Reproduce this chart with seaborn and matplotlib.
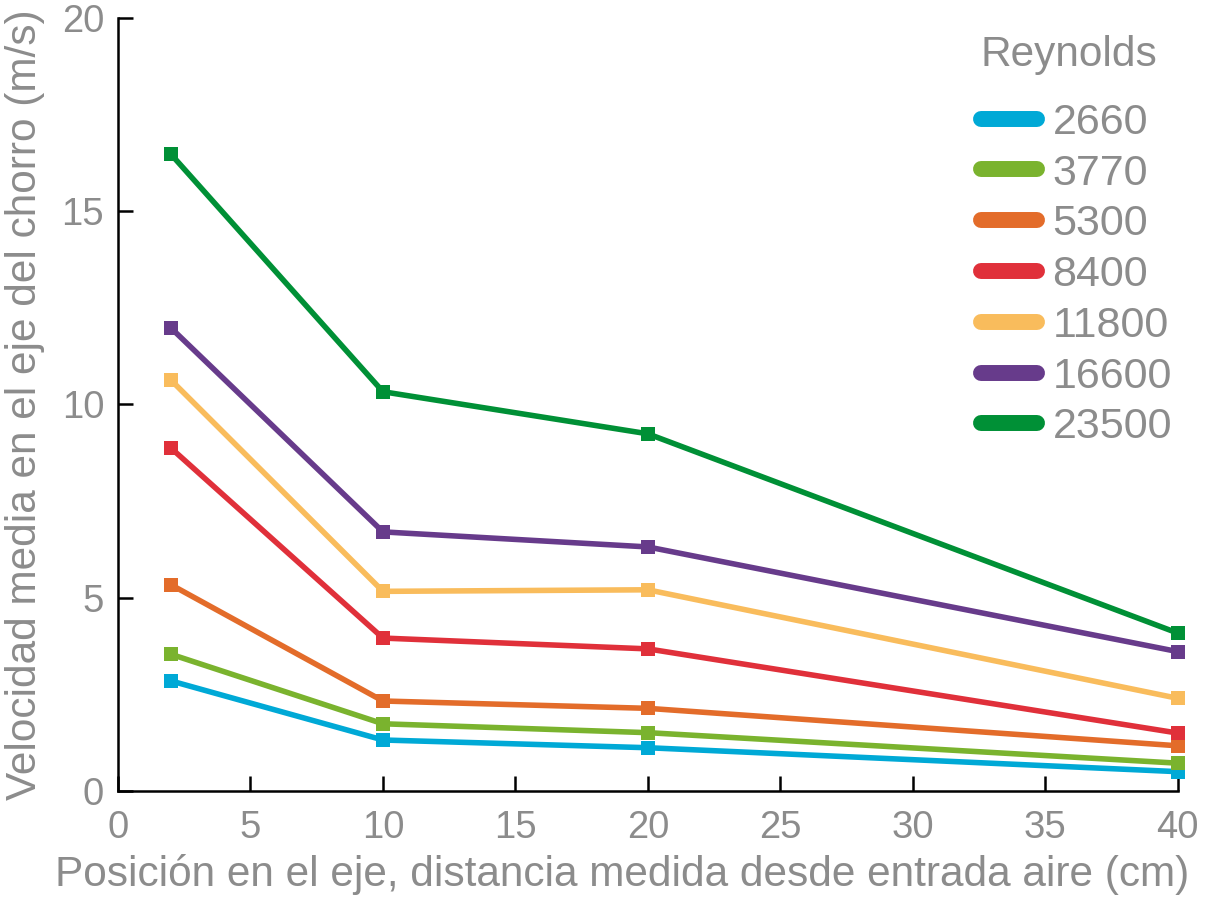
import matplotlib
matplotlib.use("Agg")
import matplotlib.pyplot as plt
from matplotlib.lines import Line2D
import numpy as np
import pandas as pd
import seaborn as sns

# Measurement positions along the jet axis (cm)
posicion = [2, 10, 20, 40]

# Reynolds numbers of each series
reynolds = ["2660", "3770", "5300", "8400", "11800", "16600", "23500"]

# Mean centreline velocity (m/s) per Reynolds number
v_2660 = [2.84, 1.31, 1.11, 0.49]
v_3770 = [3.53, 1.73, 1.50, 0.71]
v_5300 = [5.33, 2.32, 2.13, 1.16]
v_8400 = [8.87, 3.95, 3.67, 1.49]
v_11800 = [10.63, 5.16, 5.20, 2.39]
v_16600 = [11.98, 6.70, 6.31, 3.60]
v_23500 = [16.48, 10.33, 9.24, 4.08]

colores = ["#00A9D6", "#7AB32E", "#E36C2A", "#E0303A", "#F9BC5C", "#673B8B", "#009036"]

series = [v_2660, v_3770, v_5300, v_8400, v_11800, v_16600, v_23500]
df = pd.DataFrame({
    "x": np.tile(posicion, len(reynolds)),
    "v": np.concatenate(series),
    "Re": np.repeat(reynolds, len(posicion)),
})

sns.set_style("ticks")
plt.rcParams["font.family"] = ["Liberation Sans", "DejaVu Sans"]

gris = "#8c8c8c"
fig = plt.figure(figsize=(12.08, 8.99), dpi=100)
ax = fig.add_axes([0.0977, 0.1206, 0.8772, 0.859])

palette = dict(zip(reynolds, colores))
sns.lineplot(data=df, x="x", y="v", hue="Re", hue_order=reynolds, palette=palette,
             marker="s", markersize=10, markeredgewidth=0, linewidth=4,
             legend=False, ax=ax, clip_on=False)

ax.set_xlim(0, 40)
ax.set_ylim(0, 20)
ax.set_xticks([0, 5, 10, 15, 20, 25, 30, 35, 40])
ax.set_yticks([0, 5, 10, 15, 20])
ax.tick_params(direction="in", length=11, width=1.8, colors="black",
               labelcolor=gris, labelsize=27.5)
ax.tick_params(axis="x", pad=14)
ax.tick_params(axis="y", pad=10)
for s in ["top", "right"]:
    ax.spines[s].set_visible(False)
for s in ["left", "bottom"]:
    ax.spines[s].set_linewidth(1.8)
    ax.spines[s].set_color("black")

ax.set_xlabel("Posición en el eje, distancia medida desde entrada aire (cm)",
              fontsize=30.5, color=gris, labelpad=6)
ax.xaxis.label.set_x(0.476)
ax.set_ylabel("Velocidad media en el eje del chorro (m/s)",
              fontsize=30.5, color=gris, labelpad=12)

handles = [Line2D([0], [0], color=c, linewidth=11.5, solid_capstyle="round")
           for c in colores]
leg = ax.legend(handles, reynolds, title="Reynolds", loc="upper right",
                bbox_to_anchor=(1172 / 1208, 1 - 35 / 899),
                bbox_transform=fig.transFigure, borderaxespad=0, borderpad=0,
                frameon=False, fontsize=31, title_fontsize=30.5,
                handlelength=1.3, handletextpad=0.37,
                labelspacing=0.25, labelcolor=gris)
leg.get_title().set_color(gris)
leg._legend_box.align = "left"
leg._legend_box.sep = 20

fig.savefig("out.png", dpi=100)
